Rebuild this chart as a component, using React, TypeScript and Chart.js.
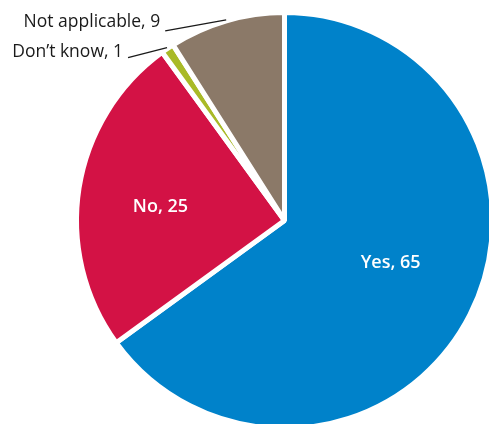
import React, { useEffect, useRef } from "react";
import { Chart, registerables } from "chart.js";

Chart.register(...registerables);

const categories = ["Yes", "No", "Don\u2019t know", "Not applicable"];
const values = [65, 25, 1, 9];
const colors = ["#0082CA", "#D31245", "#A9BA27", "#8B7968"];

const labelPlugin = {
  id: "sliceLabels",
  afterDatasetsDraw(chart: any) {
    const meta = chart.getDatasetMeta(0);
    const ctx = chart.ctx;
    ctx.save();
    meta.data.forEach((arc: any, i: number) => {
      const { x, y, startAngle, endAngle, outerRadius } = arc.getProps(
        ["x", "y", "startAngle", "endAngle", "outerRadius"],
        true
      );
      const mid = (startAngle + endAngle) / 2;
      const text = `${categories[i]}, ${values[i]}`;
      if (values[i] >= 20) {
        const f = i === 0 ? 0.55 : 0.6;
        const a = i === 0 ? mid - 0.09 : mid - 0.05;
        const px = x + Math.cos(a) * outerRadius * f;
        const py = y + Math.sin(a) * outerRadius * f;
        ctx.fillStyle = "#ffffff";
        ctx.font = "600 18px 'Open Sans'";
        ctx.textAlign = "center";
        ctx.textBaseline = "middle";
        ctx.fillText(text, px, py);
      } else {
        const r0 = outerRadius + 1;
        const sx = x + Math.cos(mid) * r0;
        const sy = y + Math.sin(mid) * r0;
        const ex = i === 3 ? sx - 61 : sx - 39;
        const ey = i === 3 ? sy + 11 : sy + 10;
        ctx.strokeStyle = "#1a1a1a";
        ctx.lineWidth = 1.3;
        ctx.beginPath();
        ctx.moveTo(sx, sy);
        ctx.lineTo(ex, ey);
        ctx.stroke();
        ctx.fillStyle = "#1a1a1a";
        ctx.font = "17.5px 'Open Sans'";
        ctx.textAlign = "right";
        ctx.textBaseline = "alphabetic";
        ctx.fillText(text, ex - 5, i === 3 ? ey - 4 : ey - 1);
      }
    });
    ctx.restore();
  },
};

export default function App() {
  const ref = useRef<HTMLCanvasElement>(null);
  useEffect(() => {
    if (!ref.current) return;
    const chart = new Chart(ref.current, {
      type: "pie",
      data: {
        labels: categories,
        datasets: [
          {
            data: values,
            backgroundColor: colors,
            borderColor: "#ffffff",
            borderWidth: 5,
          },
        ],
      },
      options: {
        animation: false,
        responsive: false,
        radius: 208,
        layout: { padding: { left: 80, right: 0, top: 17, bottom: 0 } },
        plugins: {
          legend: { display: false },
          tooltip: { enabled: false },
        },
      },
      plugins: [labelPlugin],
    });
    return () => chart.destroy();
  }, []);
  return (
    <div style={{ position: "fixed", left: 0, top: 0, width: 489, height: 424, background: "#fff" }}>
      <canvas ref={ref} width={489} height={424} />
    </div>
  );
}
